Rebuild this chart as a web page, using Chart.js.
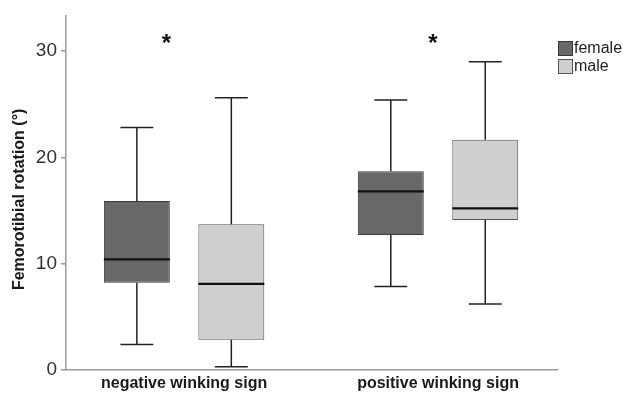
<!DOCTYPE html>
<html>
<head>
<meta charset="utf-8">
<script src="https://cdn.jsdelivr.net/npm/chart.js@4"></script>
<style>
  html, body { margin: 0; padding: 0; background: #ffffff; }
  #wrap { width: 623px; height: 395px; position: relative; }
</style>
</head>
<body>
<div id="wrap"><canvas id="c" width="623" height="395"></canvas></div>
<script>
// ---- data ----
const categories = ['negative winking sign', 'positive winking sign'];
const seriesNames = ['female', 'male'];
const femaleMin    = [2.4, 7.85];
const femaleQ1     = [8.2, 12.7];
const femaleMedian = [10.4, 16.8];
const femaleQ3     = [15.9, 18.7];
const femaleMax    = [22.8, 25.4];
const maleMin      = [0.3, 6.2];
const maleQ1       = [2.85, 14.1];
const maleMedian   = [8.1, 15.2];
const maleQ3       = [13.7, 21.65];
const maleMax      = [25.6, 29.0];
const yTicks = [0, 10, 20, 30];
const sigMarks = [{ x: 0.93, y: 31.0, text: '*' }, { x: 1.98, y: 31.0, text: '*' }];

const FONT = "'Liberation Sans', Arial, Helvetica, sans-serif";
const colors = { female: '#686868', male: '#cfcfcf' };
const borders = { female: '#3a3a3a', male: '#555555' };

const stats = [
  { min: femaleMin, q1: femaleQ1, med: femaleMedian, q3: femaleQ3, max: femaleMax },
  { min: maleMin, q1: maleQ1, med: maleMedian, q3: maleQ3, max: maleMax }
];

function boxData(s) {
  return categories.map((c, i) => ({ x: i + 1, y: [s.q1[i], s.q3[i]] }));
}

const boxPlugin = {
  id: 'boxParts',
  afterDatasetsDraw(chart) {
    const ctx = chart.ctx;
    const y = chart.scales.y;
    const x = chart.scales.x;
    chart.data.datasets.forEach((ds, di) => {
      const meta = chart.getDatasetMeta(di);
      const s = stats[di];
      meta.data.forEach((bar, i) => {
        const cx = bar.x;
        const w = bar.width;
        const pMin = y.getPixelForValue(s.min[i]);
        const pQ1 = y.getPixelForValue(s.q1[i]);
        const pMed = y.getPixelForValue(s.med[i]);
        const pQ3 = y.getPixelForValue(s.q3[i]);
        const pMax = y.getPixelForValue(s.max[i]);
        ctx.save();
        ctx.strokeStyle = '#222';
        ctx.lineWidth = 1.5;
        ctx.beginPath();
        ctx.moveTo(cx, pQ3); ctx.lineTo(cx, pMax);
        ctx.moveTo(cx - w / 4, pMax); ctx.lineTo(cx + w / 4, pMax);
        ctx.moveTo(cx, pQ1); ctx.lineTo(cx, pMin);
        ctx.moveTo(cx - w / 4, pMin); ctx.lineTo(cx + w / 4, pMin);
        ctx.stroke();
        ctx.strokeStyle = '#111';
        ctx.lineWidth = 2.2;
        ctx.beginPath();
        ctx.moveTo(cx - w / 2, pMed); ctx.lineTo(cx + w / 2, pMed);
        ctx.stroke();
        ctx.restore();
      });
    });
    // significance marks
    ctx.save();
    ctx.fillStyle = '#111';
    ctx.font = 'bold 24px ' + FONT;
    ctx.textAlign = 'center';
    ctx.textBaseline = 'middle';
    sigMarks.forEach(m => {
      ctx.fillText(m.text, x.getPixelForValue(m.x), y.getPixelForValue(m.y) + 4);
    });
    ctx.restore();
    // legend
    ctx.save();
    const lx = chart.chartArea.right + 1;
    let ly = 41;
    chart.data.datasets.forEach((ds, di) => {
      ctx.fillStyle = ds.backgroundColor;
      ctx.strokeStyle = ds.borderColor;
      ctx.lineWidth = 1;
      ctx.fillRect(lx, ly, 15, 15);
      ctx.strokeRect(lx + 0.5, ly + 0.5, 14, 14);
      ctx.fillStyle = '#222';
      ctx.font = '16px ' + FONT;
      ctx.textAlign = 'left';
      ctx.textBaseline = 'middle';
      ctx.fillText(ds.label, lx + 16, ly + 8);
      ly += 18;
    });
    ctx.restore();
  }
};

new Chart(document.getElementById('c'), {
  type: 'bar',
  data: {
    datasets: [
      { label: seriesNames[0], data: boxData(stats[0]), backgroundColor: colors.female, borderColor: borders.female, borderWidth: 1, borderSkipped: false },
      { label: seriesNames[1], data: boxData(stats[1]), backgroundColor: colors.male, borderColor: borders.male, borderWidth: 1, borderSkipped: false }
    ]
  },
  options: {
    responsive: false,
    animation: false,
    devicePixelRatio: 1,
    categoryPercentage: 0.744,
    barPercentage: 0.698,
    layout: { padding: { left: 0, right: 66, top: 12, bottom: 0 } },
    plugins: { legend: { display: false }, tooltip: { enabled: false } },
    scales: {
      x: {
        type: 'linear',
        offset: false,
        min: 0.535,
        max: 2.4685,
        afterBuildTicks(scale) { scale.ticks = categories.map((c, i) => ({ value: i + 1 })); },
        afterFit(scale) { scale.height = 25; },
        grid: { display: false, offset: false, drawTicks: false },
        border: { display: true, color: '#9a9a9a', width: 1.5 },
        ticks: {
          callback: (v) => categories[v - 1] || '',
          font: { family: FONT, size: 16, weight: 'bold' },
          color: '#1a1a1a',
          padding: 4,
          maxRotation: 0,
          autoSkip: false
        }
      },
      y: {
        min: 0,
        max: 33.35,
        afterBuildTicks(scale) { scale.ticks = yTicks.map(v => ({ value: v })); },
        afterFit(scale) { scale.width = 66; },
        grid: { drawOnChartArea: false, drawTicks: true, tickLength: 5, color: '#9a9a9a', lineWidth: 1.5 },
        border: { display: true, color: '#9a9a9a', width: 1.5 },
        ticks: {
          font: { family: FONT, size: 19 },
          color: '#333',
          padding: 4
        },
        title: {
          display: true,
          text: 'Femorotibial rotation (°)   ',
          font: { family: FONT, size: 16, weight: 'bold' },
          color: '#1a1a1a',
          padding: { top: 10, bottom: 0 }
        }
      }
    }
  },
  plugins: [boxPlugin]
});
</script>
</body>
</html>
